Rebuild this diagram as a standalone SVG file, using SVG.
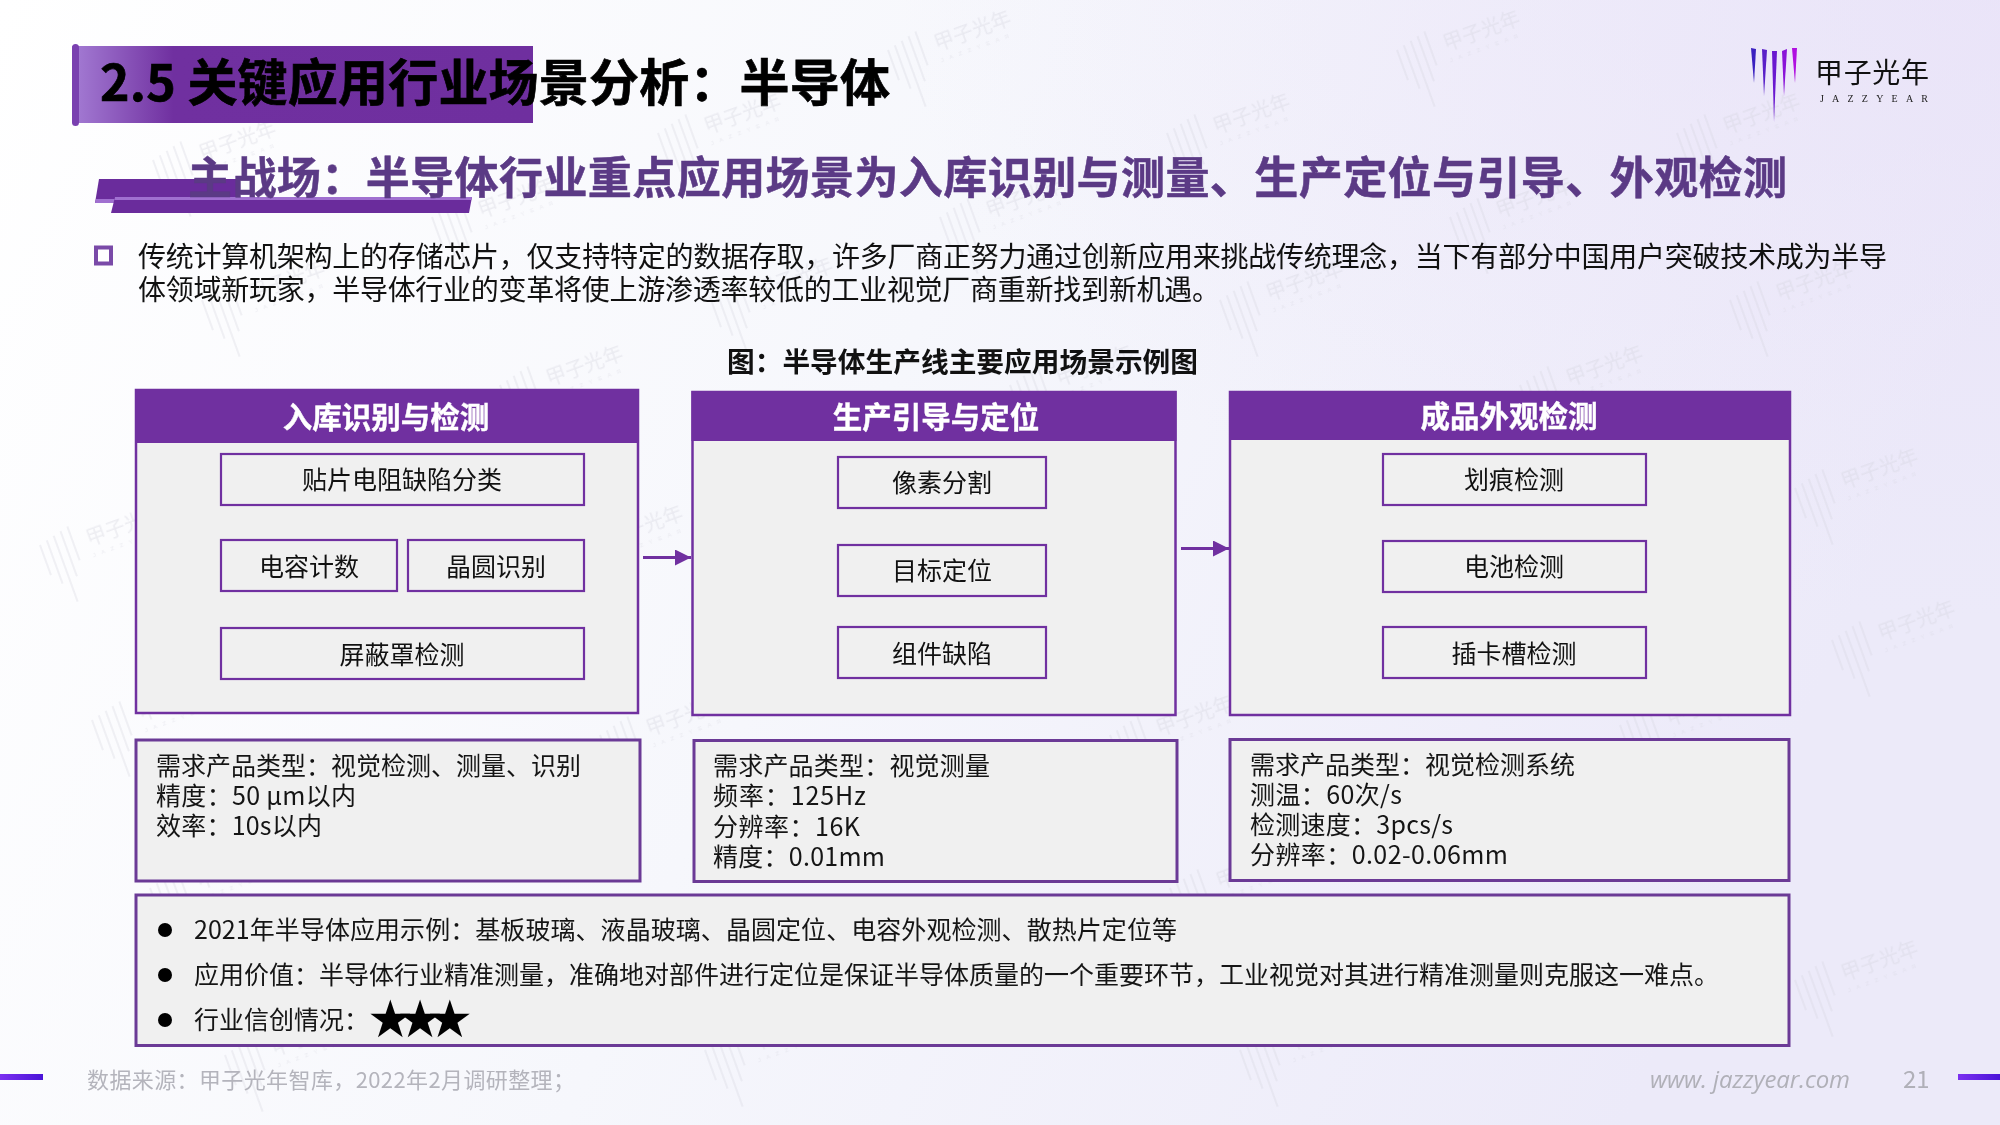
<svg xmlns="http://www.w3.org/2000/svg" xmlns:xlink="http://www.w3.org/1999/xlink" width="2000" height="1125" viewBox="0 0 2000 1125">
<defs>
<linearGradient id="bg" x1="0" y1="0" x2="1" y2="0.25"><stop offset="0" stop-color="#ffffff"/><stop offset="0.5" stop-color="#f6f7fc"/><stop offset="1" stop-color="#eceaf9"/></linearGradient>
<radialGradient id="bg2" cx="1" cy="0" r="0.55"><stop offset="0" stop-color="#e8e0f8" stop-opacity="0.65"/><stop offset="1" stop-color="#e8e0f8" stop-opacity="0"/></radialGradient>
<linearGradient id="tb" x1="0" y1="0" x2="1" y2="0"><stop offset="0" stop-color="#a47cd4"/><stop offset="0.22" stop-color="#7030a0"/><stop offset="1" stop-color="#6f2f9f"/></linearGradient>
<linearGradient id="fb" x1="0" y1="0" x2="1" y2="0"><stop offset="0" stop-color="#7c30f0"/><stop offset="1" stop-color="#4a14d8"/></linearGradient>
<marker id="ah" markerUnits="userSpaceOnUse" markerWidth="16" markerHeight="16" refX="16" refY="8" orient="auto"><path d="M0 0L16 8L0 16Z" fill="#7030a0"/></marker>
<g id="wm">
<g fill="none" stroke="#d4d4de" stroke-width="1.6"><path d="M0 0L0 32M8 -2L8 44M16 -4L16 66M24 -6L24 42M32 -8L32 28"/></g>
<text x="46" y="18" font-size="20" fill="#d4d4de">甲子光年</text>
<text x="46" y="30" font-size="6" fill="#d4d4de" class="l" letter-spacing="6">JAZZYEAR</text>
</g>
</defs>
<style>
text{font-family:"Noto Sans CJK SC","Noto Sans",sans-serif}
.l{font-family:"Liberation Sans",sans-serif}
.big{fill:#f0f0f0;stroke:#7030a0;stroke-width:2.5}
.hd{fill:#7030a0;stroke:#7030a0;stroke-width:2}
.in{fill:#f0f0f0;stroke:#7030a0;stroke-width:2.2}
.req{fill:#f0f0f0;stroke:#6b3a96;stroke-width:3}
.ht{font-size:29.500px;font-weight:700;fill:#fff;stroke:#fff;stroke-width:0.4;text-anchor:middle}
.it{font-size:25px;fill:#111;text-anchor:middle}
.rt{font-size:25px;fill:#151515}
.ft{font-size:22px;fill:#b4b4bc}
.bl{fill:#000}
</style>
<rect width="2000" height="1125" fill="url(#bg)"/>
<rect width="2000" height="1125" fill="url(#bg2)"/>

<g id="watermarks" opacity="0.38">
<use xlink:href="#wm" transform="translate(888,50) rotate(-20)"/>
<use xlink:href="#wm" transform="translate(1397,50) rotate(-20)"/>
<use xlink:href="#wm" transform="translate(658,133) rotate(-20)"/>
<use xlink:href="#wm" transform="translate(1167,133) rotate(-20)"/>
<use xlink:href="#wm" transform="translate(1677,133) rotate(-20)"/>
<use xlink:href="#wm" transform="translate(153,160) rotate(-20)"/>
<use xlink:href="#wm" transform="translate(432,217) rotate(-20)"/>
<use xlink:href="#wm" transform="translate(940,217) rotate(-20)"/>
<use xlink:href="#wm" transform="translate(1450,217) rotate(-20)"/>
<use xlink:href="#wm" transform="translate(202,300) rotate(-20)"/>
<use xlink:href="#wm" transform="translate(710,297) rotate(-20)"/>
<use xlink:href="#wm" transform="translate(1220,300) rotate(-20)"/>
<use xlink:href="#wm" transform="translate(1730,300) rotate(-20)"/>
<use xlink:href="#wm" transform="translate(500,385) rotate(-20)"/>
<use xlink:href="#wm" transform="translate(1010,385) rotate(-20)"/>
<use xlink:href="#wm" transform="translate(1520,385) rotate(-20)"/>
<use xlink:href="#wm" transform="translate(1795,488) rotate(-20)"/>
<use xlink:href="#wm" transform="translate(1832,640) rotate(-20)"/>
<use xlink:href="#wm" transform="translate(40,545) rotate(-20)"/>
<use xlink:href="#wm" transform="translate(560,545) rotate(-20)"/>
<use xlink:href="#wm" transform="translate(92,720) rotate(-20)"/>
<use xlink:href="#wm" transform="translate(600,735) rotate(-20)"/>
<use xlink:href="#wm" transform="translate(1110,735) rotate(-20)"/>
<use xlink:href="#wm" transform="translate(1620,725) rotate(-20)"/>
<use xlink:href="#wm" transform="translate(1170,888) rotate(-20)"/>
<use xlink:href="#wm" transform="translate(150,888) rotate(-20)"/>
<use xlink:href="#wm" transform="translate(1795,980) rotate(-20)"/>
<use xlink:href="#wm" transform="translate(225,1055) rotate(-20)"/>
<use xlink:href="#wm" transform="translate(705,1050) rotate(-20)"/>
<use xlink:href="#wm" transform="translate(1240,1050) rotate(-20)"/>
</g>

<g id="title-block">
<rect x="72" y="46" width="461" height="77" fill="url(#tb)"/>
<rect x="72" y="44" width="7" height="82" rx="3.500" fill="#7a40b0"/>
<text x="100" y="101" font-size="50" font-weight="700" fill="#000" stroke="#000" stroke-width="0.7" textLength="790" lengthAdjust="spacing">2.5 关键应用行业场景分析：半导体</text>
</g>

<g id="logo">
<path d="M1751 48L1756 49L1754 83Z" fill="#3a20c0"/>
<path d="M1762 49L1767 50L1764 96Z" fill="#5a20c8"/>
<path d="M1772 51L1777 51L1774 122Z" fill="#6a18d0"/>
<path d="M1782 51L1787 49L1784 96Z" fill="#8a14d8"/>
<path d="M1792 48L1797 48L1795 83Z" fill="#b010e0"/>
<text x="1815" y="83" font-size="28" fill="#111" textLength="114">甲子光年</text>
<text x="1820" y="102" font-size="10" fill="#222" textLength="108" style="font-family:'Liberation Serif',serif">JAZZYEAR</text>
</g>

<g id="subtitle">
<path d="M99 179H240L236 203H95Z" fill="#6a2c9c"/>
<path d="M95 203L96 199H238L237 203Z" fill="#a070d0"/>
<path d="M115 197H472L469 213H111Z" fill="#6a2c9c"/>
<path d="M115 197H472L471.400 200H114.400Z" fill="#a070d0"/>
<text x="188" y="194" font-size="44" font-weight="700" fill="#5b3a85" stroke="#5b3a85" stroke-width="0.5" textLength="1599" lengthAdjust="spacing">主战场：半导体行业重点应用场景为入库识别与测量、生产定位与引导、外观检测</text>
</g>

<g id="intro">
<rect x="96" y="247.500" width="15" height="16" fill="#fff" stroke="#7a4aa8" stroke-width="4"/>
<text x="138" y="267" font-size="28" fill="#111" textLength="1749" lengthAdjust="spacing">传统计算机架构上的存储芯片，仅支持特定的数据存取，许多厂商正努力通过创新应用来挑战传统理念，当下有部分中国用户突破技术成为半导</text>
<text x="138" y="300" font-size="28" fill="#111" textLength="1082" lengthAdjust="spacing">体领域新玩家，半导体行业的变革将使上游渗透率较低的工业视觉厂商重新找到新机遇。</text>
</g>

<text id="figure-caption" x="727" y="372" font-size="27.700" font-weight="700" fill="#111" textLength="471" lengthAdjust="spacing">图：半导体生产线主要应用场景示例图</text>

<g id="node-a">
<rect class="big" x="136" y="390" width="502" height="323"/>
<rect class="hd" x="136" y="390" width="502" height="52"/>
<text class="ht" x="386" y="428">入库识别与检测</text>
</g>
<g id="node-a1"><rect class="in" x="221" y="454" width="363" height="51"/><text class="it" x="402" y="489">贴片电阻缺陷分类</text></g>
<g id="node-a2"><rect class="in" x="221" y="540" width="176" height="51"/><text class="it" x="309" y="576">电容计数</text></g>
<g id="node-a3"><rect class="in" x="408" y="540" width="176" height="51"/><text class="it" x="496" y="576">晶圆识别</text></g>
<g id="node-a4"><rect class="in" x="221" y="628" width="363" height="51"/><text class="it" x="402" y="664">屏蔽罩检测</text></g>

<g id="node-b">
<rect class="big" x="692.500" y="392" width="483" height="323"/>
<rect class="hd" x="692.500" y="392" width="483" height="48"/>
<text class="ht" x="936" y="428">生产引导与定位</text>
</g>
<g id="node-b1"><rect class="in" x="838" y="457" width="208" height="51"/><text class="it" x="942" y="492">像素分割</text></g>
<g id="node-b2"><rect class="in" x="838" y="545" width="208" height="51"/><text class="it" x="942" y="580">目标定位</text></g>
<g id="node-b3"><rect class="in" x="838" y="627" width="208" height="51"/><text class="it" x="942" y="663">组件缺陷</text></g>

<g id="node-c">
<rect class="big" x="1230" y="392" width="560" height="323"/>
<rect class="hd" x="1230" y="392" width="560" height="47"/>
<text class="ht" x="1509" y="427">成品外观检测</text>
</g>
<g id="node-c1"><rect class="in" x="1383" y="454" width="263" height="51"/><text class="it" x="1514" y="489">划痕检测</text></g>
<g id="node-c2"><rect class="in" x="1383" y="541" width="263" height="51"/><text class="it" x="1514" y="576">电池检测</text></g>
<g id="node-c3"><rect class="in" x="1383" y="627" width="263" height="51"/><text class="it" x="1514" y="663">插卡槽检测</text></g>

<g id="connectors" fill="none" stroke="#7030a0" stroke-width="3">
<path d="M643 557.500H691" marker-end="url(#ah)"/>
<path d="M1181 548.500H1229" marker-end="url(#ah)"/>
</g>

<g id="req-a">
<rect class="req" x="136" y="740" width="504" height="141"/>
<text class="rt" x="156" y="775">需求产品类型：视觉检测、测量、识别</text>
<text class="rt" x="156" y="805" textLength="200" lengthAdjust="spacing">精度：50 μm以内</text>
<text class="rt" x="156" y="835" textLength="166" lengthAdjust="spacing">效率：10s以内</text>
</g>
<g id="req-b">
<rect class="req" x="694" y="740.500" width="483" height="141"/>
<text class="rt" x="713" y="775" textLength="277" lengthAdjust="spacing">需求产品类型：视觉测量</text>
<text class="rt" x="713" y="805" textLength="153" lengthAdjust="spacing">频率：125Hz</text>
<text class="rt" x="713" y="836" textLength="147" lengthAdjust="spacing">分辨率：16K</text>
<text class="rt" x="713" y="866" textLength="172" lengthAdjust="spacing">精度：0.01mm</text>
</g>
<g id="req-c">
<rect class="req" x="1230" y="739.500" width="559" height="141"/>
<text class="rt" x="1250" y="774">需求产品类型：视觉检测系统</text>
<text class="rt" x="1250" y="804" textLength="152" lengthAdjust="spacing">测温：60次/s</text>
<text class="rt" x="1250" y="834" textLength="203" lengthAdjust="spacing">检测速度：3pcs/s</text>
<text class="rt" x="1250" y="864" textLength="258" lengthAdjust="spacing">分辨率：0.02-0.06mm</text>
</g>

<g id="summary">
<rect class="req" x="136" y="895" width="1653" height="150.500"/>
<circle class="bl" cx="165" cy="930" r="7"/>
<circle class="bl" cx="165" cy="975" r="7"/>
<circle class="bl" cx="165" cy="1020" r="7"/>
<text class="rt" x="194" y="939" textLength="983" lengthAdjust="spacing">2021年半导体应用示例：基板玻璃、液晶玻璃、晶圆定位、电容外观检测、散热片定位等</text>
<text class="rt" x="194" y="984">应用价值：半导体行业精准测量，准确地对部件进行定位是保证半导体质量的一个重要环节，工业视觉对其进行精准测量则克服这一难点。</text>
<text class="rt" x="194" y="1029">行业信创情况：</text>
<text x="367" y="1037" font-size="52" fill="#000" style="font-family:'DejaVu Sans',sans-serif" textLength="106" lengthAdjust="spacing">★★★</text>
</g>

<g id="footer">
<rect x="0" y="1074" width="43" height="6" fill="url(#fb)"/>
<rect x="1958" y="1074" width="42" height="6" fill="url(#fb)"/>
<text class="ft" x="87" y="1088" textLength="488" lengthAdjust="spacing">数据来源：甲子光年智库，2022年2月调研整理；</text>
<text x="1650" y="1088" font-size="24" font-style="italic" fill="#b0b0b8" style="font-family:'Open Sans',sans-serif" textLength="200" lengthAdjust="spacing">www. jazzyear.com</text>
<text x="1903" y="1088" font-size="24" fill="#b0b0b8">21</text>
</g>
</svg>
